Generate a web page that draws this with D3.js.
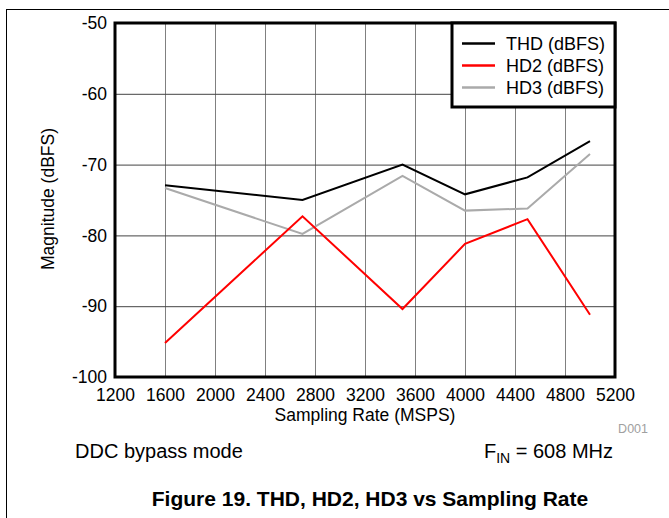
<!DOCTYPE html>
<html>
<head>
<meta charset="utf-8">
<script src="https://cdn.jsdelivr.net/npm/d3@7"></script>
<style>
  body { margin: 0; background: #fff; }
  svg { font-family: Arial, "Liberation Sans", sans-serif; }
</style>
</head>
<body>
<svg class="chart" width="669" height="518"></svg>
<script>
var width = 669;
var height = 518;

// data
var rates = [1600, 2700, 3500, 4000, 4500, 5000];
var thd = [-72.9, -75.0, -70.0, -74.2, -71.8, -66.7];
var hd2 = [-95.2, -77.3, -90.4, -81.2, -77.7, -91.2];
var hd3 = [-73.3, -79.8, -71.6, -76.5, -76.2, -68.5];

var seriesNames = ["THD (dBFS)", "HD2 (dBFS)", "HD3 (dBFS)"];
var seriesColors = ["#000000", "#ff0000", "#aaaaaa"];

var xTicks = [1200, 1600, 2000, 2400, 2800, 3200, 3600, 4000, 4400, 4800, 5200];
var yTicks = [-50, -60, -70, -80, -90, -100];

// plot box (note: "top" is taken by window.top)
var plotLeft = 115, plotRight = 615, plotTop = 23, plotBottom = 377;

var x = d3.scaleLinear().domain([1200, 5200]).range([plotLeft, plotRight]);
var y = d3.scaleLinear().domain([-100, -50]).range([plotBottom, plotTop]);

// plain hyphen minus like the original, not the unicode one d3.format gives
var plainNumber = function(d) { return String(d); };

var svg = d3.select(".chart");

// page frame
svg.append("line")
    .attr("x1", 6).attr("x2", width).attr("y1", 9.5).attr("y2", 9.5)
    .attr("stroke", "#000").attr("stroke-width", 1);
svg.append("line")
    .attr("x1", 6.5).attr("x2", 6.5).attr("y1", 9).attr("y2", height)
    .attr("stroke", "#000").attr("stroke-width", 1);

// grid lines
svg.append("g")
    .attr("transform", "translate(0," + plotBottom + ")")
    .call(d3.axisBottom(x).tickValues(xTicks).tickSize(-(plotBottom - plotTop)).tickFormat(""))
    .call(function(g) {
        g.select(".domain").remove();
        g.selectAll("line").attr("stroke", "#808080");
    });

svg.append("g")
    .attr("transform", "translate(" + plotLeft + ",0)")
    .call(d3.axisLeft(y).tickValues(yTicks).tickSize(-(plotRight - plotLeft)).tickFormat(""))
    .call(function(g) {
        g.select(".domain").remove();
        g.selectAll("line").attr("stroke", "#444");
    });

// tick labels
svg.append("g")
    .attr("transform", "translate(0," + plotBottom + ")")
    .call(d3.axisBottom(x).tickValues(xTicks).tickSize(0).tickPadding(12).tickFormat(plainNumber))
    .call(function(g) {
        g.select(".domain").remove();
        g.selectAll("text").attr("font-size", "17.5px").attr("font-family", null).attr("fill", "#000");
    });

svg.append("g")
    .attr("transform", "translate(" + plotLeft + ",0)")
    .call(d3.axisLeft(y).tickValues(yTicks).tickSize(0).tickPadding(8).tickFormat(plainNumber))
    .call(function(g) {
        g.select(".domain").remove();
        g.selectAll("text").attr("font-size", "17.5px").attr("font-family", null).attr("fill", "#000");
    });

// series lines
var line = d3.line()
    .x(function(d) { return x(d[0]); })
    .y(function(d) { return y(d[1]); });

var allSeries = [thd, hd2, hd3];
// draw gray first, then red, then black on top
[2, 1, 0].forEach(function(i) {
    var pts = rates.map(function(r, j) { return [r, allSeries[i][j]]; });
    svg.append("path")
        .attr("d", line(pts))
        .attr("fill", "none")
        .attr("stroke", seriesColors[i])
        .attr("stroke-width", 2);
});

// plot border
svg.append("rect")
    .attr("x", plotLeft).attr("y", plotTop)
    .attr("width", plotRight - plotLeft).attr("height", plotBottom - plotTop)
    .attr("fill", "none").attr("stroke", "#000").attr("stroke-width", 3);

// legend
var legend = svg.append("g");
legend.append("rect")
    .attr("x", 452).attr("y", plotTop)
    .attr("width", plotRight - 452).attr("height", 84)
    .attr("fill", "#fff").attr("stroke", "#000").attr("stroke-width", 3);

var rows = legend.selectAll("g.key")
    .data(seriesNames)
    .enter().append("g")
    .attr("class", "key")
    .attr("transform", function(d, i) { return "translate(0," + (43.5 + i * 22) + ")"; });

rows.append("line")
    .attr("x1", 462).attr("x2", 495)
    .attr("stroke", function(d, i) { return seriesColors[i]; })
    .attr("stroke-width", 2.5);

rows.append("text")
    .attr("x", 506).attr("dy", "0.36em")
    .attr("font-size", "18px")
    .text(function(d) { return d; });

// axis titles
svg.append("text")
    .attr("x", (plotLeft + plotRight) / 2).attr("y", 420.5)
    .attr("text-anchor", "middle")
    .attr("font-size", "17.5px")
    .text("Sampling Rate (MSPS)");

svg.append("text")
    .attr("transform", "translate(54,199) rotate(-90)")
    .attr("text-anchor", "middle")
    .attr("font-size", "17.5px")
    .text("Magnitude (dBFS)");

svg.append("text")
    .attr("x", 648).attr("y", 433)
    .attr("text-anchor", "end")
    .attr("font-size", "12.5px")
    .attr("fill", "#a0a0a0")
    .text("D001");

// notes under the chart
svg.append("text")
    .attr("x", 75).attr("y", 458)
    .attr("font-size", "20px")
    .text("DDC bypass mode");

var fin = svg.append("text")
    .attr("x", 613).attr("y", 458)
    .attr("text-anchor", "end")
    .attr("font-size", "20px");
fin.append("tspan").text("F");
fin.append("tspan").attr("font-size", "14px").attr("dy", 5).text("IN");
fin.append("tspan").attr("dy", -5).text(" = 608 MHz");

// caption
svg.append("text")
    .attr("x", 370).attr("y", 506)
    .attr("text-anchor", "middle")
    .attr("font-size", "21px")
    .attr("font-weight", "bold")
    .text("Figure 19. THD, HD2, HD3 vs Sampling Rate");
</script>
</body>
</html>
